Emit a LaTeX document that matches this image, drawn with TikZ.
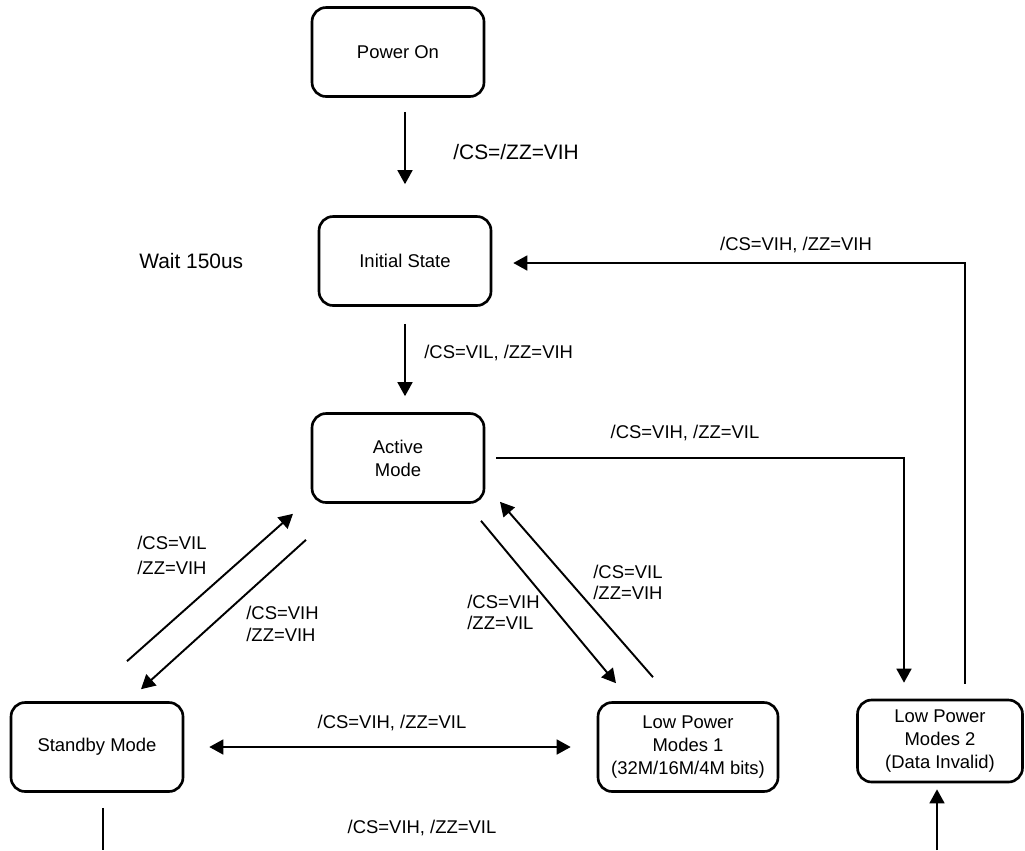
\documentclass[tikz,border=0pt]{standalone}
\usepackage{fontspec}
\setmainfont{Liberation Sans}
\usepackage{tikz}
\usetikzlibrary{calc}
\usetikzlibrary{positioning}
\usetikzlibrary{arrows.meta}

\begin{document}
\begin{tikzpicture}[x=0.02cm, y=-0.02cm, >={Triangle[length=8pt,width=8.5pt]},
		every node/.style={font=\fontsize{10.5}{12.6}\selectfont}]
			\tikzset{estado/.style={draw, rounded corners=8pt, line width=1.5pt, minimum width=3.44cm,
				minimum height=1.78cm, align=center, inner sep=2pt, font=\fontsize{10.5}{13}\selectfont},
				seta/.style={->, line width=1.1pt},
				rotulo/.style={inner sep=0pt, align=left},
				grande/.style={font=\fontsize{11.9}{14}\selectfont}}
			\useasboundingbox (0,0) rectangle (1025,850);
			\node[estado] (on) at (398,52) {Power On};
			\node[estado] (ini) at (405,261) {Initial State};
			\node[estado] (act) at (398,458) {Active\\Mode};
			\node[estado] (stby) at (97,747) {Standby Mode};
			\node[estado, minimum width=3.6cm] (lp1) at (688,747) {Low Power\\Modes 1\\(32M/16M/4M bits)};
			\node[estado, minimum width=3.3cm, minimum height=1.64cm] (lp2) at (940,741) {Low Power\\Modes 2\\(Data Invalid)};
			\coordinate (rtop) at (965,263);
			\coordinate (rmid) at (904,458);
			\coordinate (sbot) at (103,850);
			\coordinate (lbot) at (937,850);
			\draw[seta, shorten <=0.28cm, shorten >=0.62cm] (on.south -| ini.north) -- (ini.north);
			\draw[seta, shorten <=0.34cm, shorten >=0.32cm] (ini.south) -- (ini.south |- act.north);
			\draw[seta, shorten <=0.3cm, shorten >=0.42cm] (rtop |- lp2.north) -- (rtop) -- (ini.east |- rtop);
			\draw[seta, shorten <=0.22cm, shorten >=0.32cm] (act.east |- rmid) -- (rmid) -- (rmid |- lp2.north);
			\draw[seta] ($(stby.north)+(30,-40)$) -- ($(act.south)+(-105,10)$);
			\draw[seta] ($(act.south)+(-92,36)$) -- ($(stby.north)+(44,-12)$);
			\draw[seta] ($(act.south)+(83,17)$) -- ($(lp1.north)+(-72,-18)$);
			\draw[seta] ($(lp1.north)+(-35,-24)$) -- ($(act.south)+(102,-2)$);
			\draw[<->, line width=1.1pt, shorten <=0.5cm, shorten >=0.52cm] (stby.east) -- (lp1.west);
			\draw[line width=1.1pt, shorten <=0.3cm] (stby.south -| sbot) -- (sbot);
			\draw[seta, shorten >=0.12cm] (lbot) -- (lbot |- lp2.south);
			\node[rotulo, grande, anchor=west] (l1) at (453,152) {/CS=/ZZ=VIH};
			\node[rotulo, grande, anchor=west] (wait) at (139,261) {Wait 150us};
			\node[rotulo, anchor=west] (l2) at (424,353) {/CS=VIL, /ZZ=VIH};
			\node[rotulo] (l3) at (796,245) {/CS=VIH, /ZZ=VIH};
			\node[rotulo] (l4) at (685,433) {/CS=VIH, /ZZ=VIL};
			\node[rotulo, anchor=west, font=\fontsize{10.5}{14.2}\selectfont] (l5) at (137,555) {/CS=VIL\\/ZZ=VIH};
			\node[rotulo, anchor=west, font=\fontsize{10.5}{12.5}\selectfont] (l6) at (246,624) {/CS=VIH\\/ZZ=VIH};
			\node[rotulo, anchor=west, font=\fontsize{10.5}{12}\selectfont] (l7) at (467,612) {/CS=VIH\\/ZZ=VIL};
			\node[rotulo, anchor=west, font=\fontsize{10.5}{12}\selectfont] (l8) at (593,582) {/CS=VIL\\/ZZ=VIH};
			\node[rotulo] (l9) at (392,723) {/CS=VIH, /ZZ=VIL};
			\node[rotulo] (l10) at (422,828) {/CS=VIH, /ZZ=VIL};
		\end{tikzpicture}
\end{document}
